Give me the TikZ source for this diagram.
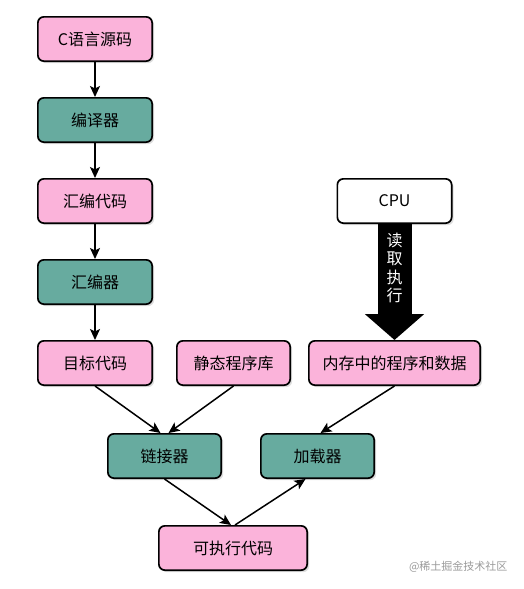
\documentclass[tikz,border=0pt]{standalone}
\usepackage{fontspec}
\setmainfont{Noto Sans CJK SC}
\usepackage{xcolor}
\usetikzlibrary{arrows.meta,positioning,shadows}
\definecolor{srcpink}{HTML}{FBB3DA}
\definecolor{toolgreen}{HTML}{67AB9F}
\definecolor{wmgray}{HTML}{9A9A9A}

\begin{document}
\begin{tikzpicture}[
    x=1pt,y=1pt,
    font=\fontsize{16}{18.5}\selectfont,
    box/.style={draw,line width=1.7pt,rounded corners=6pt,minimum width=114.3pt,minimum height=44.3pt,
      inner sep=2pt,align=center,drop shadow={shadow xshift=2pt,shadow yshift=-2pt,opacity=0.25}},
    pbox/.style={box,fill=srcpink},
    gbox/.style={box,fill=toolgreen},
    wbox/.style={box,fill=white},
    arr/.style={-{Stealth[length=11pt,width=10pt,inset=2.5pt]},line width=1.5pt},
    bigarr/.style={line width=34pt,-{Triangle[length=26pt,width=58pt]}},
  ]
    \useasboundingbox (0,0) rectangle (523,-589);

    \node[pbox] (src) at (95,-39) {C语言源码};
    \node[gbox,below=35pt of src] (comp) {编译器};
    \node[pbox,below=35pt of comp] (asmsrc) {汇编代码};
    \node[gbox,below=35pt of asmsrc] (asm) {汇编器};
    \node[pbox,below=35pt of asm] (obj) {目标代码};
    \node[pbox,right=23pt of obj,minimum width=113.3pt] (lib) {静态程序库};
    \node[pbox,right=17pt of lib,minimum width=171.3pt] (mem) {内存中的程序和数据};
    \node[wbox,above=116pt of mem] (cpu) {CPU};
    \node[gbox,below=47pt of obj,xshift=69.5pt,minimum width=113.3pt] (link) {链接器};
    \node[gbox,right=38pt of link,minimum width=113.3pt] (load) {加载器};
    \node[pbox,below=46pt of link,xshift=68.5pt,minimum width=148.3pt] (exe) {可执行代码};
    \node[text=wmgray,font=\fontsize{11}{12}\selectfont,anchor=east] (wm) at (511,-567) {@稀土掘金技术社区};

    \draw[arr] (src) -- (comp);
    \draw[arr] (comp) -- (asmsrc);
    \draw[arr] (asmsrc) -- (asm);
    \draw[arr] (asm) -- (obj);
    \draw[bigarr] (cpu.south) -- node[pos=0.38,text=white,align=center]{读\\取\\执\\行} (mem.north);
    \draw[arr] (obj.south) -- ([xshift=-4pt]link.north);
    \draw[arr] (lib.south) -- ([xshift=4pt]link.north);
    \draw[arr] (mem.south) -- ([xshift=3pt]load.north);
    \draw[arr] (link.south) -- ([xshift=-2pt]exe.north);
    \draw[arr] ([xshift=2pt]exe.north) -- ([xshift=-12pt]load.south);
  \end{tikzpicture}
\end{document}
